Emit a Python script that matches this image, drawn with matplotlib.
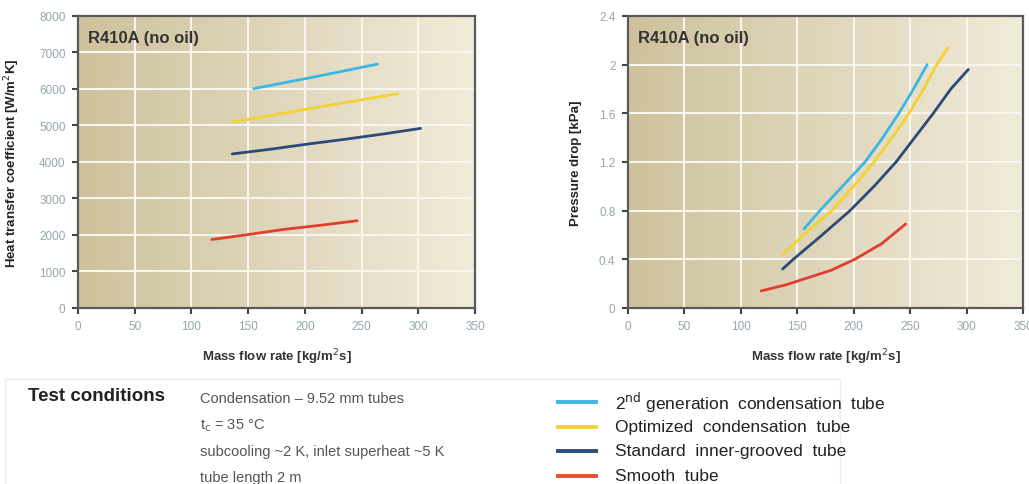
import numpy as np
import matplotlib.pyplot as plt
from matplotlib.patches import Rectangle

plt.rcParams['font.family'] = ['Liberation Sans', 'DejaVu Sans']

# heat transfer coefficient [W/m2K] vs mass flow rate [kg/m2s]
htc_gen2_x = [155, 180, 210, 240, 264]
htc_gen2_y = [6010, 6160, 6340, 6530, 6680]
htc_opt_x = [137, 170, 200, 240, 282]
htc_opt_y = [5100, 5270, 5440, 5650, 5870]
htc_std_x = [136, 170, 200, 235, 270, 302]
htc_std_y = [4220, 4350, 4480, 4620, 4770, 4920]
htc_smooth_x = [118, 150, 181, 215, 246]
htc_smooth_y = [1875, 2010, 2150, 2270, 2390]

# pressure drop [kPa]
dp_gen2_x = [156, 170, 190, 210, 225, 240, 253, 265]
dp_gen2_y = [0.65, 0.80, 1.00, 1.20, 1.39, 1.60, 1.80, 2.00]
dp_opt_x = [137, 158, 180.5, 200, 218, 234, 249, 262, 273.5, 283.5]
dp_opt_y = [0.44, 0.62, 0.80, 1.00, 1.20, 1.40, 1.60, 1.80, 2.00, 2.14]
dp_std_x = [137, 146.5, 172, 196.7, 218, 237.5, 254, 270.5, 286, 301.5]
dp_std_y = [0.32, 0.40, 0.60, 0.80, 1.00, 1.20, 1.40, 1.60, 1.80, 1.96]
dp_smooth_x = [118, 140, 160, 180, 201, 225, 246]
dp_smooth_y = [0.14, 0.19, 0.25, 0.31, 0.40, 0.53, 0.69]

c_gen2 = '#3cb6e3'
c_opt = '#f4d232'
c_std = '#2c4a7a'
c_smooth = '#e23e2e'

legend_labels = ['2$^{\\rm nd}$ generation  condensation  tube',
                 'Optimized  condensation  tube',
                 'Standard  inner-grooved  tube',
                 'Smooth  tube']
legend_colors = [c_gen2, c_opt, c_std, '#e8502a']

conditions = ['Condensation \u2013 9.52 mm tubes',
              't$_{\\rm c}$ = 35 \u00b0C',
              'subcooling ~2 K, inlet superheat ~5 K',
              'tube length 2 m']

fig = plt.figure(figsize=(10.29, 4.85), dpi=100)

# tan-to-cream background gradient for the plot area
grad = np.linspace(0, 1, 256).reshape(1, -1)
bg_left = np.array([206, 194, 156]) / 255
bg_right = np.array([241, 235, 218]) / 255
bg = bg_left[None, None, :] * (1 - grad[..., None]) + bg_right[None, None, :] * grad[..., None]


def style_axes(ax, ymax, yticks, ylabels, ylabel):
    ax.imshow(bg, aspect='auto', extent=[0, 350, 0, ymax], zorder=0)
    ax.set_xlim(0, 350)
    ax.set_ylim(0, ymax)
    ax.set_xticks(range(0, 351, 50))
    ax.set_yticks(yticks)
    ax.set_yticklabels(ylabels)
    ax.grid(True, color='#f8f6ee', lw=1.5, zorder=1)
    ax.tick_params(direction='out', length=4, width=1.5, color='#444444',
                   labelsize=8.5, labelcolor='#96a6aa', pad=5)
    for s in ax.spines.values():
        s.set_color('#5a5a5a')
        s.set_linewidth(1.6)
    ax.set_xlabel('Mass flow rate [kg/m$^{\\rm 2}$s]', fontsize=9.5,
                  fontweight='bold', color='#333333', labelpad=10)
    ax.set_ylabel(ylabel, fontsize=9.5, fontweight='bold', color='#222222', labelpad=12)
    ax.text(0.025, 0.925, 'R410A (no oil)', transform=ax.transAxes, fontsize=12,
            fontweight='bold', color='#333333', va='center', zorder=5)


ax1 = fig.add_axes([0.0758, 0.363, 0.3858, 0.602])
style_axes(ax1, 8000, range(0, 8001, 1000), [str(v) for v in range(0, 8001, 1000)],
           'Heat transfer coefficient [W/m$^{\\rm 2}$K]')
for x, y, c in [(htc_gen2_x, htc_gen2_y, c_gen2), (htc_opt_x, htc_opt_y, c_opt),
                (htc_std_x, htc_std_y, c_std), (htc_smooth_x, htc_smooth_y, c_smooth)]:
    ax1.plot(x, y, color=c, lw=2, zorder=3, solid_capstyle='round', solid_joinstyle='round')

ax2 = fig.add_axes([0.6103, 0.363, 0.3839, 0.602])
yt = [0, 0.4, 0.8, 1.2, 1.6, 2.0, 2.4]
style_axes(ax2, 2.4, yt, ['0', '0.4', '0.8', '1.2', '1.6', '2', '2.4'], 'Pressure drop [kPa]')
for x, y, c in [(dp_gen2_x, dp_gen2_y, c_gen2), (dp_opt_x, dp_opt_y, c_opt),
                (dp_std_x, dp_std_y, c_std), (dp_smooth_x, dp_smooth_y, c_smooth)]:
    ax2.plot(x, y, color=c, lw=2, zorder=3, solid_capstyle='round', solid_joinstyle='round')

# test-conditions box underneath
fig.patches.append(Rectangle((5 / 1029, -0.1), 835 / 1029, 0.1 + 105 / 485,
                             transform=fig.transFigure, fill=False,
                             edgecolor='#efefe8', lw=1))
fig.text(28 / 1029, 1 - 397 / 485, 'Test conditions', fontsize=13.5, fontweight='bold',
         color='#222222', va='center')
for i, line in enumerate(conditions):
    fig.text(200 / 1029, 1 - (399 + 26.5 * i) / 485, line, fontsize=10.5,
             color='#555555', va='center')

for i, (lab, c) in enumerate(zip(legend_labels, legend_colors)):
    yy = 1 - (403 + 24.5 * i) / 485
    fig.add_artist(plt.Line2D([558 / 1029, 596 / 1029], [yy, yy], color=c, lw=2.8,
                              transform=fig.transFigure))
    fig.text(615 / 1029, yy, lab, fontsize=12.5, color='#222222', va='center')

fig.savefig('out.png', dpi=100)
